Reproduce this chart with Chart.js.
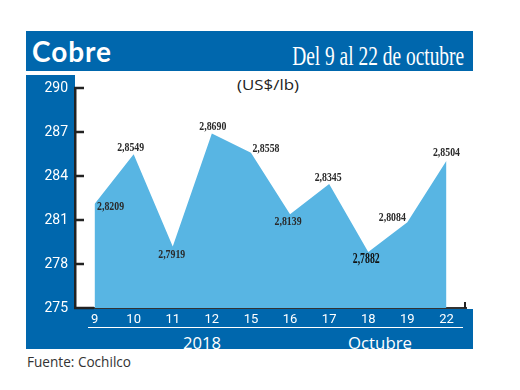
<!DOCTYPE html>
<html><head><meta charset="utf-8">
<script src="https://cdn.jsdelivr.net/npm/chart.js@4/dist/chart.umd.min.js"></script>
<style>
html,body{margin:0;padding:0;background:#fff;}
#wrap{position:relative;width:520px;height:390px;overflow:hidden;}
.blk{position:absolute;background:#0067ad;}
.txt{position:absolute;white-space:nowrap;line-height:1;}
canvas{position:absolute;left:0;top:0;}
</style></head><body>
<div id="wrap">
<div class="blk" style="left:26px;top:31px;width:447px;height:40px"></div>
<div class="blk" style="left:26px;top:75px;width:49px;height:274px"></div>
<div class="blk" style="left:26px;top:309px;width:447px;height:40px"></div>
<div style="position:absolute;left:88px;top:327px;width:375px;height:1px;background:#fff"></div>
<div class="txt" id="tCobre" style="left:32px;top:33px;font:700 29px Lato;color:#fff;letter-spacing:1px">Cobre</div>
<div class="txt" id="tDel" style="right:56px;top:41px;font:400 27px 'Liberation Serif';color:#fff">Del 9 al 22 de octubre</div>
<div class="txt" id="tUnit" style="left:237px;top:74px;font:400 15px 'Open Sans';color:#222">(US$/lb)</div>
<div class="txt" id="t2018" style="left:183px;top:331px;font:400 17px 'Open Sans';color:#fff">2018</div>
<div class="txt" id="tOct" style="left:348px;top:331px;font:400 17px 'Open Sans';color:#fff">Octubre</div>
<div class="txt" id="tSrc" style="left:27px;top:352px;font:400 14px 'Open Sans';color:#333">Fuente: Cochilco</div>
<canvas id="c" width="520" height="390"></canvas>
</div>
<script>
const days = ['9','10','11','12','15','16','17','18','19','22'];
const prices = [282.09, 285.49, 279.19, 286.90, 285.58, 281.39, 283.45, 278.82, 280.84, 285.04];
const yTicks = [275, 278, 281, 284, 287, 290];

function fit(id, width, origin){
  const el = document.getElementById(id);
  const w = el.getBoundingClientRect().width;
  el.style.transformOrigin = origin;
  el.style.transform = 'scaleX(' + (width / w) + ')';
}
fit('tCobre', 80, 'left center');
fit('tDel', 172, 'right center');
fit('tUnit', 62, 'left center');
fit('t2018', 38, 'left center');
fit('tOct', 64, 'left center');
fit('tSrc', 104, 'left center');

// label placement relative to each point (dx, dy of text centre)
const labelOffsets = [[16,3],[-3,-7],[-1,8],[1,-7],[15,-4],[-2,7],[-1,-6],[-2,7],[-15,-5],[0,-8]];

const decor = {
  id: 'decor',
  afterDatasetsDraw(chart){
    const {ctx, chartArea: a, scales: {y}} = chart;
    ctx.save();
    ctx.strokeStyle = '#222';
    ctx.lineWidth = 2.5;
    y.ticks.forEach(t => {
      const py = y.getPixelForValue(t.value);
      ctx.beginPath();
      ctx.moveTo(a.left - 1, py);
      ctx.lineTo(a.left + (t.value === y.min ? 19 : 9), py);
      ctx.stroke();
    });
    ctx.lineWidth = 2;
    ctx.beginPath();
    ctx.moveTo(a.right - 1, a.bottom);
    ctx.lineTo(a.right - 1, a.bottom - 6);
    ctx.stroke();
    const meta = chart.getDatasetMeta(0);
    ctx.textAlign = 'center';
    ctx.textBaseline = 'middle';
    meta.data.forEach((pt, i) => {
      const txt = (prices[i] / 100).toFixed(4).replace('.', ',');
      ctx.fillStyle = i === 7 ? '#111' : '#2a2a2a';
      ctx.font = 'bold ' + (i === 7 ? 14 : 13) + 'px "Liberation Serif"';
      const w = ctx.measureText(txt).width;
      const sx = 27 / w;
      const off = labelOffsets[i];
      ctx.save();
      ctx.translate(pt.x + off[0], pt.y + off[1]);
      ctx.scale(sx, 1);
      ctx.fillText(txt, 0, 0);
      ctx.restore();
    });
    ctx.restore();
  }
};

new Chart(document.getElementById('c'), {
  type: 'line',
  data: {
    labels: days,
    datasets: [{
      data: prices,
      fill: 'start',
      backgroundColor: '#58b5e3',
      borderWidth: 0,
      borderColor: 'rgba(0,0,0,0)',
      pointRadius: 0,
      tension: 0
    }]
  },
  options: {
    responsive: false,
    animation: false,
    events: [],
    layout: { padding: { left: 0, right: 54, top: 88, bottom: 0 } },
    plugins: { legend: { display: false }, tooltip: { enabled: false }, title: { display: false } },
    scales: {
      x: {
        type: 'category',
        offset: true,
        grid: { display: true, drawOnChartArea: false, drawTicks: false },
        border: { display: true, color: '#333', width: 2 },
        ticks: { color: '#fff', padding: 4, font: { family: 'Roboto', size: 13 }, maxRotation: 0, autoSkip: false },
        afterFit(s){ s.height = 82; }
      },
      y: {
        min: 275,
        max: 290,
        afterBuildTicks(s){ s.ticks = yTicks.map(v => ({ value: v })); },
        grid: { display: true, drawOnChartArea: false, drawTicks: false },
        border: { display: true, color: '#222', width: 2.5 },
        ticks: { color: '#fff', padding: 7, font: { family: 'Roboto', size: 14 } },
        afterFit(s){ s.width = 75; }
      }
    }
  },
  plugins: [decor]
});
</script>
</body></html>
